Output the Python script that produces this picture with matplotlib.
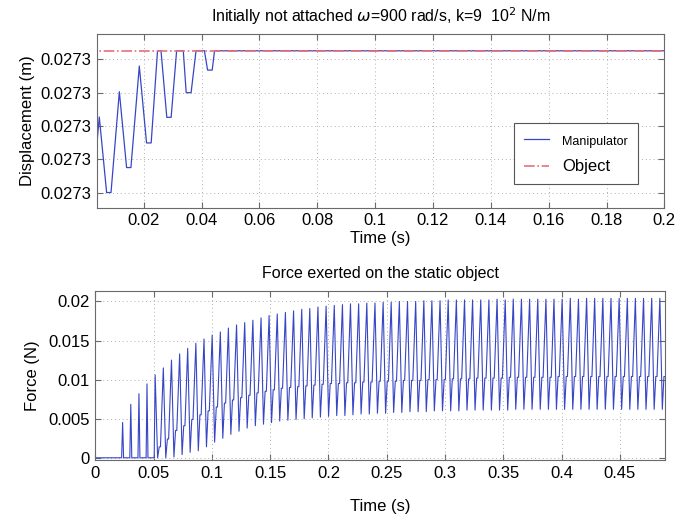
import numpy as np
import matplotlib.pyplot as plt

plt.rcParams['font.family'] = ['Liberation Sans', 'DejaVu Sans']
plt.rcParams['mathtext.fontset'] = 'dejavusans'

# ---- top panel: manipulator displacement vs object position ----
manip_t = [0.00374, 0.00467, 0.0072, 0.00872, 0.0116, 0.0141, 0.0156, 0.0185,
           0.0210, 0.0226, 0.0248, 0.0260, 0.0280, 0.0295, 0.0314, 0.0337,
           0.0347, 0.0364, 0.0381, 0.0410, 0.0421, 0.0437, 0.0445, 0.2]
manip_x = [0.02729737, 0.02729827, 0.02729600, 0.02729600, 0.02729903, 0.02729675,
           0.02729675, 0.02729980, 0.02729749, 0.02729749, 0.02730026, 0.02730026,
           0.02729826, 0.02729826, 0.02730026, 0.02730026, 0.02729900, 0.02729900,
           0.02730026, 0.02730026, 0.02729968, 0.02729968, 0.02730026, 0.02730026]
object_t = [0.0, 0.2]
object_x = [0.02730026, 0.02730026]
disp_ticks = [0.027296, 0.027297, 0.027298, 0.027299, 0.027300]
time_ticks_top = [0.02, 0.04, 0.06, 0.08, 0.1, 0.12, 0.14, 0.16, 0.18, 0.2]

# ---- bottom panel: force, one entry per contact cycle ----
peak_t = [0.0235, 0.0305, 0.0375, 0.0444, 0.0514, 0.0584, 0.0654, 0.0724, 0.0793, 0.0863,
          0.0933, 0.1003, 0.1073, 0.1142, 0.1212, 0.1282, 0.1352, 0.1422, 0.1491, 0.1561,
          0.1631, 0.1701, 0.1771, 0.1840, 0.1910, 0.1980, 0.2050, 0.2120, 0.2189, 0.2259,
          0.2329, 0.2399, 0.2469, 0.2538, 0.2608, 0.2678, 0.2748, 0.2818, 0.2887, 0.2957,
          0.3027, 0.3097, 0.3167, 0.3236, 0.3306, 0.3376, 0.3446, 0.3516, 0.3585, 0.3655,
          0.3725, 0.3795, 0.3865, 0.3934, 0.4004, 0.4074, 0.4144, 0.4214, 0.4283, 0.4353,
          0.4423, 0.4493, 0.4563, 0.4632, 0.4702, 0.4772, 0.4842]
peak_f = [0.00452, 0.00684, 0.0082, 0.00945, 0.0106, 0.0115, 0.0125, 0.0133, 0.0140, 0.01465,
          0.0152, 0.0157, 0.0161, 0.0166, 0.0170, 0.0173, 0.0176, 0.0179, 0.0182, 0.0184,
          0.0186, 0.0188, 0.0190, 0.0191, 0.0193, 0.0194, 0.0195, 0.0196, 0.0197, 0.0197,
          0.0198, 0.0198, 0.0199, 0.0199, 0.0200, 0.0200, 0.0200, 0.0201, 0.0201, 0.0201,
          0.0202, 0.0202, 0.0202, 0.0202, 0.0202, 0.0202, 0.0203, 0.0202, 0.0203, 0.0203,
          0.0203, 0.0203, 0.0203, 0.0203, 0.0203, 0.0204, 0.0203, 0.0204, 0.0204, 0.0204,
          0.0204, 0.0204, 0.0204, 0.0204, 0.0204, 0.0204, 0.0204]
trough_f = [0, 0, 0, 0, 0, 0, 0.0001, 0.0004, 0.0007, 0.0009,
            0.0014, 0.0020, 0.0025, 0.0030, 0.0034, 0.0038, 0.0041, 0.0043, 0.0045, 0.0047,
            0.0048, 0.0049, 0.0050, 0.0051, 0.0052, 0.0053, 0.0054, 0.0054, 0.0055, 0.0056,
            0.0056, 0.0057, 0.0057, 0.0058, 0.0058, 0.0059, 0.0059, 0.0059, 0.0060, 0.0060,
            0.0060, 0.0060, 0.0061, 0.0061, 0.0061, 0.0061, 0.0061, 0.0061, 0.0062, 0.0062,
            0.0062, 0.0062, 0.0062, 0.0062, 0.0062, 0.0062, 0.0062, 0.0062, 0.0062, 0.0062,
            0.0062, 0.0062, 0.0062, 0.0062, 0.0062, 0.0062, 0.0062]
shelf_f = [0, 0, 0, 0, 0.0014, 0.0024, 0.0035, 0.0041, 0.0049, 0.0055,
           0.0060, 0.0065, 0.0070, 0.0074, 0.0077, 0.0080, 0.0083, 0.0085, 0.0087, 0.0089,
           0.0090, 0.0091, 0.0092, 0.0093, 0.0094, 0.0095, 0.0095, 0.0096, 0.0096, 0.0097,
           0.0097, 0.0098, 0.0098, 0.0098, 0.0099, 0.0099, 0.0099, 0.0100, 0.0100, 0.0100,
           0.0101, 0.0101, 0.0101, 0.0102, 0.0102, 0.0102, 0.0102, 0.0103, 0.0103, 0.0103,
           0.0103, 0.0103, 0.0103, 0.0104, 0.0104, 0.0104, 0.0104, 0.0104, 0.0104, 0.0104,
           0.0104, 0.0104, 0.0104, 0.0104, 0.0104, 0.0104, 0.0104]
time_ticks_bot = [0, 0.05, 0.1, 0.15, 0.2, 0.25, 0.3, 0.35, 0.4, 0.45]
force_ticks = [0, 0.005, 0.01, 0.015, 0.02]

# build the force trace from the per-cycle readings
P = peak_t[1] - peak_t[0]
ft = [0.0, peak_t[0] - 0.12 * P]
ff = [0.0, 0.0]
for tp, pk, tr, sh in zip(peak_t, peak_f, trough_f, shelf_f):
    ft.append(tp); ff.append(pk)
    if sh == 0:
        ft += [tp + 0.12 * P, tp + 0.88 * P]
        ff += [0.0, 0.0]
    else:
        ft += [tp + 0.3 * P, tp + 0.5 * P, tp + 0.65 * P]
        ff += [tr, sh, sh]

blue = '#3846c6'
red = '#e8707c'
spine_c = '#6a6a6a'


def style(ax):
    for s in ax.spines.values():
        s.set_color(spine_c)
        s.set_linewidth(0.8)
    ax.tick_params(direction='in', top=True, right=True, length=4,
                   color=spine_c, labelsize=12, pad=4)
    ax.grid(True, linestyle=(0, (1, 3)), color='#b0b0b0', linewidth=0.7)


fig = plt.figure(figsize=(6.95, 5.17), dpi=100)

ax1 = fig.add_axes([0.139, 0.598, 0.817, 0.336])
ax1.plot(manip_t, manip_x, color=blue, lw=0.9, label='Manipulator')
ax1.plot(object_t, object_x, color=red, lw=1.2, ls='-.', label='Object')
ax1.set_xlim(0.00374, 0.2)
ax1.set_ylim(0.027296 - 0.46e-6, 0.027296 + 4.76e-6)
ax1.set_xticks(time_ticks_top)
ax1.set_xticklabels(['%g' % v for v in time_ticks_top])
ax1.set_yticks(disp_ticks)
ax1.set_yticklabels(['%.4f' % v for v in disp_ticks])
style(ax1)
ax1.set_xlabel('Time (s)', fontsize=12, labelpad=2)
ax1.set_ylabel('Displacement (m)', fontsize=12, labelpad=4)
ax1.set_title(r'Initially not attached $\omega$=900 rad/s, k=9  10$^2$ N/m',
              fontsize=11.5, pad=9)
leg = ax1.legend(loc='lower right', bbox_to_anchor=(0.953, 0.135), borderaxespad=0,
                 fancybox=False, framealpha=1, edgecolor='#555555', handlelength=1.5,
                 labelspacing=0.7, borderpad=0.6, fontsize=12)
leg.get_frame().set_linewidth(0.8)
leg.get_texts()[0].set_fontsize(9)

ax2 = fig.add_axes([0.137, 0.110, 0.820, 0.328])
ax2.plot(ft, ff, color=blue, lw=0.8)
ax2.set_xlim(0, 0.4887)
ax2.set_ylim(-0.0003, 0.0214)
ax2.set_xticks(time_ticks_bot)
ax2.set_xticklabels(['%g' % v for v in time_ticks_bot])
ax2.set_yticks(force_ticks)
ax2.set_yticklabels(['%g' % v for v in force_ticks])
style(ax2)
ax2.set_xlabel('Time (s)', fontsize=12, labelpad=13)
ax2.set_ylabel('Force (N)', fontsize=12, labelpad=6)
ax2.set_title('Force exerted on the static object', fontsize=11.5, pad=9)

fig.savefig('out.png', dpi=100)
